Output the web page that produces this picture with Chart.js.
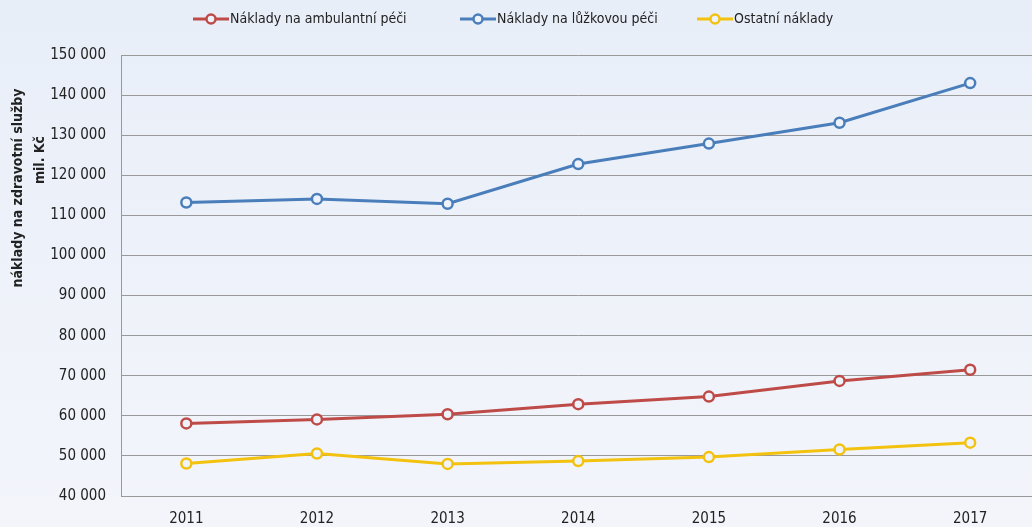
<!DOCTYPE html>
<html>
<head>
<meta charset="utf-8">
<script src="https://cdn.jsdelivr.net/npm/chart.js@4.4.1/dist/chart.umd.min.js"></script>
<style>
  html, body { margin: 0; padding: 0; overflow: hidden; width: 1032px; height: 527px;
    background: linear-gradient(#e8eef8, #f3f5fb); }
  #wrap { position: absolute; left: 0; top: 0; width: 1043px; height: 527px; }
</style>
</head>
<body>
<div id="wrap"><canvas id="c" width="1043" height="527"></canvas></div>
<script>
// Náklady na zdravotní služby podle druhu péče (mil. Kč)
const years = ['2011', '2012', '2013', '2014', '2015', '2016', '2017'];
const ambulantni = [58100, 59100, 60400, 62900, 64800, 68700, 71500];
const luzkova = [113200, 114100, 112900, 122800, 127900, 133100, 143000];
const ostatni = [48100, 50600, 48000, 48700, 49700, 51600, 53300];
const seriesNames = ['Náklady na ambulantní péči', 'Náklady na lůžkovou péči', 'Ostatní náklady'];
const yMin = 40000, yMax = 150000, yStep = 10000;

const colors = ['#be4b48', '#4a7ebb', '#f2c20f'];
const pointFill = '#eef3fb';
const FONT = '"DejaVu Sans Condensed", "DejaVu Sans", sans-serif';

function fmt(v) {
  return String(v).replace(/\B(?=(\d{3})+(?!\d))/g, ' ');
}

function makeSet(label, data, color) {
  return {
    label, data,
    borderColor: color,
    backgroundColor: color,
    borderWidth: 3,
    pointRadius: 5,
    pointHoverRadius: 5,
    pointBorderWidth: 2.5,
    pointBackgroundColor: pointFill,
    pointBorderColor: color,
    tension: 0
  };
}

// legend row across the top: short line with a hollow circle, then the name
const legendSlots = [193, 460, 697];
const topLegend = {
  id: 'topLegend',
  afterDraw(chart) {
    const ctx = chart.ctx;
    ctx.save();
    ctx.font = '14px ' + FONT;
    ctx.textBaseline = 'middle';
    const y = 19;
    chart.data.datasets.forEach((ds, i) => {
      const x = legendSlots[i];
      ctx.strokeStyle = ds.borderColor;
      ctx.lineWidth = 3;
      ctx.beginPath();
      ctx.moveTo(x, y);
      ctx.lineTo(x + 36, y);
      ctx.stroke();
      ctx.beginPath();
      ctx.arc(x + 18, y, 4.5, 0, Math.PI * 2);
      ctx.fillStyle = pointFill;
      ctx.fill();
      ctx.lineWidth = 2.5;
      ctx.stroke();
      ctx.fillStyle = '#222';
      ctx.textAlign = 'left';
      ctx.fillText(ds.label, x + 37, y);
    });
    ctx.restore();
  }
};

// two-line rotated title beside the value axis
const yTitle = {
  id: 'yTitle',
  afterDraw(chart) {
    const ctx = chart.ctx;
    ctx.save();
    ctx.font = 'bold 14px ' + FONT;
    ctx.fillStyle = '#222';
    ctx.textAlign = 'center';
    ctx.textBaseline = 'middle';
    ctx.save();
    ctx.translate(18, 188);
    ctx.rotate(-Math.PI / 2);
    ctx.fillText('náklady na zdravotní služby', 0, 0);
    ctx.restore();
    ctx.translate(40, 160);
    ctx.rotate(-Math.PI / 2);
    ctx.fillText('mil. Kč', 0, 0);
    ctx.restore();
  }
};

new Chart(document.getElementById('c'), {
  type: 'line',
  data: {
    labels: years,
    datasets: [
      makeSet(seriesNames[0], ambulantni, colors[0]),
      makeSet(seriesNames[1], luzkova, colors[1]),
      makeSet(seriesNames[2], ostatni, colors[2])
    ]
  },
  options: {
    responsive: false,
    animation: false,
    layout: { padding: { top: 55, left: 0, right: 0, bottom: 0 } },
    plugins: {
      legend: { display: false },
      tooltip: { enabled: false }
    },
    scales: {
      x: {
        offset: true,
        afterFit(s) { s.height = 31; },
        grid: { display: false, drawTicks: false },
        border: { display: true, color: '#999999', width: 1 },
        ticks: { color: '#222', font: { family: FONT, size: 15 }, padding: 14, maxRotation: 0 }
      },
      y: {
        min: yMin, max: yMax,
        afterFit(s) { s.width = 121; },
        grid: { color: '#999999', lineWidth: 1, drawTicks: false },
        border: { display: true, color: '#999999', width: 1 },
        ticks: {
          stepSize: yStep,
          color: '#222',
          font: { family: FONT, size: 15 },
          padding: 15,
          callback: v => fmt(v)
        }
      }
    }
  },
  plugins: [topLegend, yTitle]
});
</script>
</body>
</html>
